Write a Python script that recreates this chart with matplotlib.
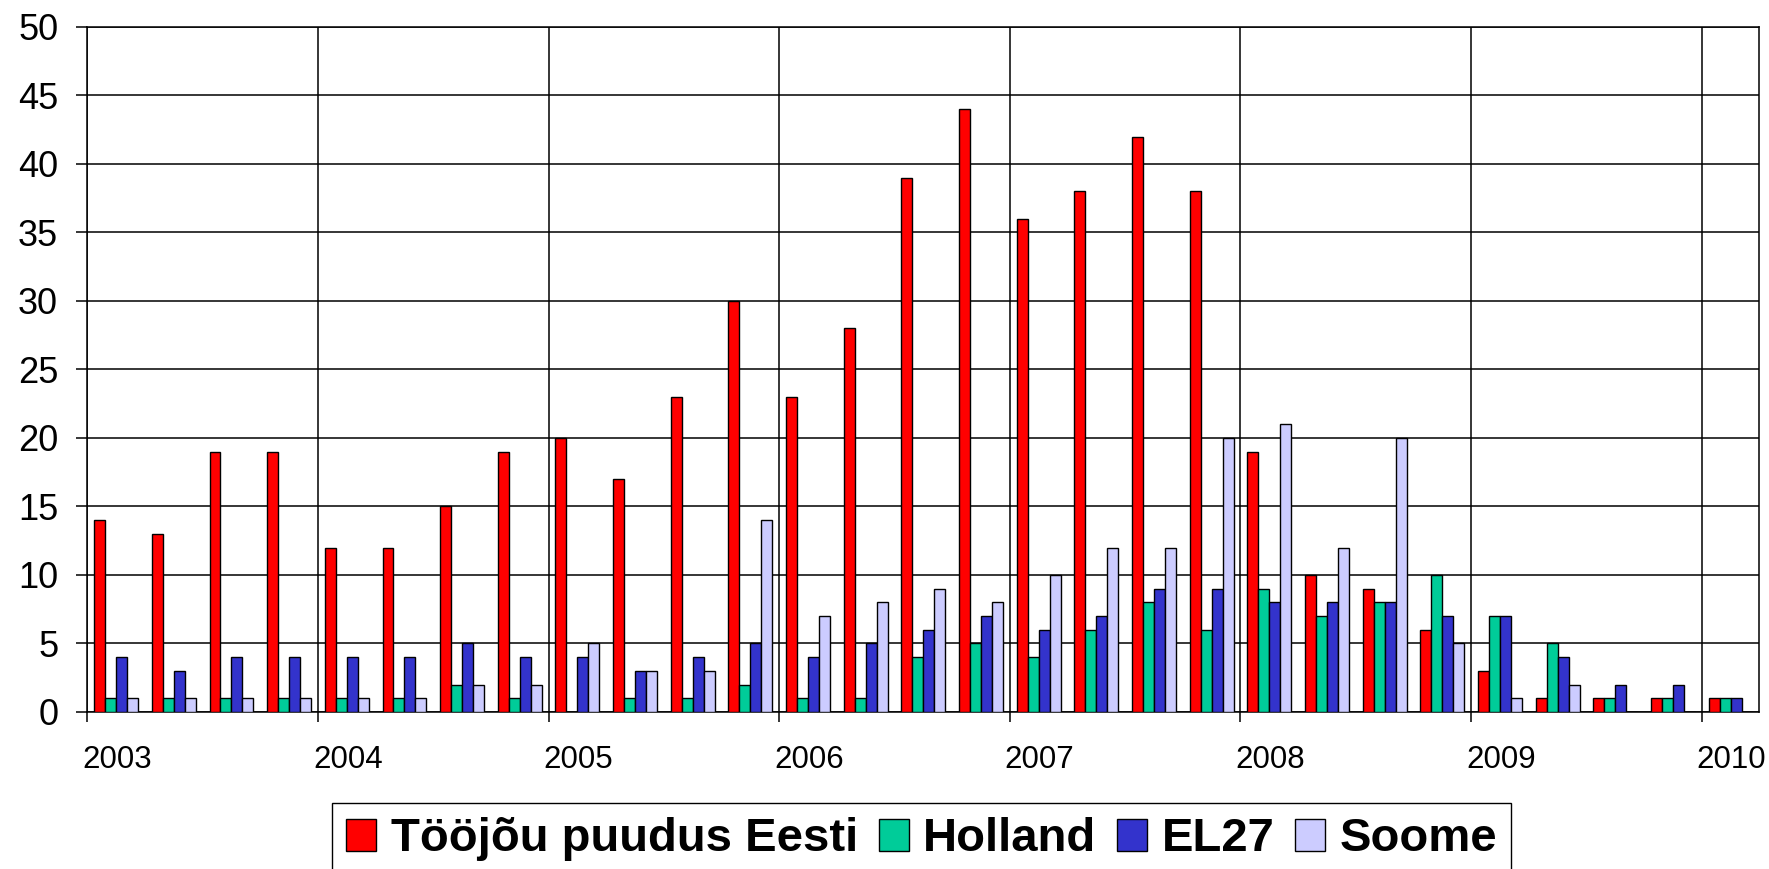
# quarterly bar chart: labour shortage Estonia vs Netherlands, EU27, Finland

import matplotlib
matplotlib.use("Agg")
import matplotlib.pyplot as plt
import matplotlib.transforms as mtrans
import numpy as np

plt.rcParams['font.family'] = ['Liberation Sans', 'DejaVu Sans']

# data, one value per quarter from 2003 Q1 to 2010 Q1
quarters = [f"{y} Q{q}" for y in range(2003, 2010) for q in range(1, 5)] + ["2010 Q1"]
eesti = [14, 13, 19, 19, 12, 12, 15, 19, 20, 17, 23, 30, 23, 28, 39, 44,
         36, 38, 42, 38, 19, 10, 9, 6, 3, 1, 1, 1, 1]
holland = [1, 1, 1, 1, 1, 1, 2, 1, 0, 1, 1, 2, 1, 1, 4, 5,
           4, 6, 8, 6, 9, 7, 8, 10, 7, 5, 1, 1, 1]
el27 = [4, 3, 4, 4, 4, 4, 5, 4, 4, 3, 4, 5, 4, 5, 6, 7,
        6, 7, 9, 9, 8, 8, 8, 7, 7, 4, 2, 2, 1]
soome = [1, 1, 1, 1, 1, 1, 2, 2, 5, 3, 3, 14, 7, 8, 9, 8,
         10, 12, 12, 20, 21, 12, 20, 5, 1, 2, 0, 0, 0]
year_labels = ["2003", "2004", "2005", "2006", "2007", "2008", "2009", "2010"]

series = [("Tööjõu puudus Eesti", eesti, "#FF0000"),
          ("Holland", holland, "#00CC99"),
          ("EL27", el27, "#3333CC"),
          ("Soome", soome, "#CCCCFF")]

fig = plt.figure(figsize=(17.69, 8.69), dpi=100)
ax = fig.add_axes([0.04935, 0.18067, 0.94522, 0.78826])

x = np.arange(len(quarters)) + 0.5
w = 0.19
for i, (name, vals, clr) in enumerate(series):
    ax.bar(x + (i - 1.5) * w, vals, width=w, color=clr, edgecolor="black",
           linewidth=1.0, label=name, zorder=3)

ax.set_xlim(0, len(quarters))
ax.set_ylim(0, 50)
ax.set_yticks(np.arange(0, 51, 5))
ax.set_xticks(np.arange(0, len(quarters), 4))
ax.set_xticklabels(year_labels)

ax.grid(True, color="black", linewidth=1.1, zorder=0)
ax.set_axisbelow(True)
for s in ax.spines.values():
    s.set_color("black")
    s.set_linewidth(1.1)

ax.tick_params(axis="y", labelsize=26, length=8, width=1.1, pad=13, direction="out")
ax.tick_params(axis="x", labelsize=22.5, length=7, width=1.1, pad=17, direction="out")

# year labels start at the gridline, as in the original
shift = mtrans.ScaledTranslation(-5 / 100, 0, fig.dpi_scale_trans)
for lbl in ax.get_xticklabels():
    lbl.set_horizontalalignment("left")
    lbl.set_transform(lbl.get_transform() + shift)

fig.legend(loc="upper left", bbox_to_anchor=(332 / 1769, 1 - 803 / 869),
           ncol=4, frameon=True, fancybox=False, framealpha=1,
           edgecolor="black", prop={"weight": "bold", "size": 34},
           handlelength=0.64, handleheight=0.66, handletextpad=0.3,
           columnspacing=0.44, borderpad=0.3, borderaxespad=0)

fig.savefig("out.png", dpi=100)
